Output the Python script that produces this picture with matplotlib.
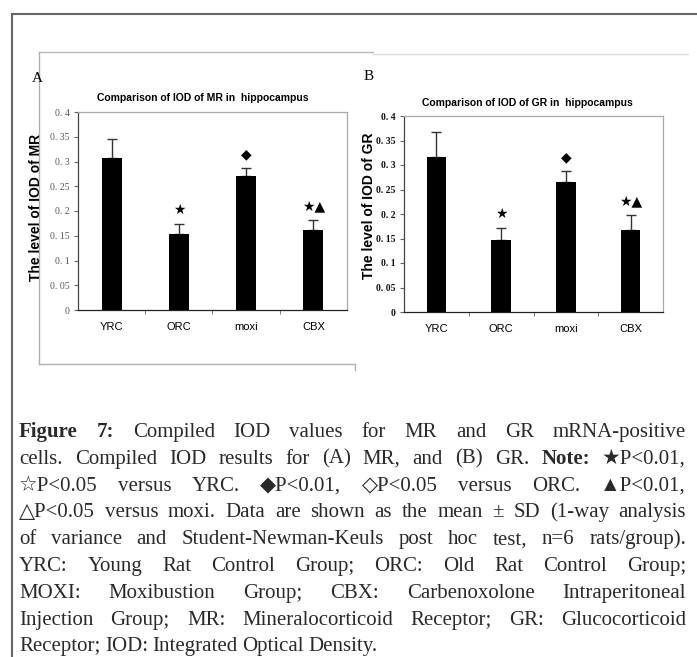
import numpy as np
import matplotlib
matplotlib.use("Agg")
import matplotlib.pyplot as plt
from matplotlib.lines import Line2D

# data
cats = ["YRC", "ORC", "moxi", "CBX"]
mr_mean = [0.308, 0.154, 0.271, 0.161]
mr_sd = [0.037, 0.019, 0.015, 0.020]
gr_mean = [0.317, 0.146, 0.265, 0.168]
gr_sd = [0.050, 0.026, 0.022, 0.029]
marks = ["", "\u2605", "\u25c6", "\u2605\u25b2"]
ytick_vals = [0, 0.05, 0.1, 0.15, 0.2, 0.25, 0.3, 0.35, 0.4]
ytick_labels = ["0", "0. 05", "0. 1", "0. 15", "0. 2", "0. 25", "0. 3", "0. 35", "0. 4"]

caption = [
    "*Figure *7: Compiled IOD values for MR and GR mRNA-positive",
    "cells. Compiled IOD results for (A) MR, and (B) GR. *Note: \u2605P<0.01,",
    "\u2606P<0.05 versus YRC. \u25c6P<0.01, \u25c7P<0.05 versus ORC. \u25b2P<0.01,",
    "\u25b3P<0.05 versus moxi. Data are shown as the mean \u00b1 SD (1-way analysis",
    "of variance and Student-Newman-Keuls post hoc test, n=6 rats/group).",
    "YRC: Young Rat Control Group; ORC: Old Rat Control Group;",
    "MOXI: Moxibustion Group; CBX: Carbenoxolone Intraperitoneal",
    "Injection Group; MR: Mineralocorticoid Receptor; GR: Glucocorticoid",
    "Receptor; IOD: Integrated Optical Density.",
]

W, H = 697, 657
fig = plt.figure(figsize=(W / 100, H / 100), dpi=100)


def fx(x):
    return x / W


def fy(y):
    return 1 - y / H


def hline(x0, x1, y, color, lw=1):
    fig.add_artist(Line2D([fx(x0), fx(x1)], [fy(y), fy(y)], color=color, lw=lw))


def vline(x, y0, y1, color, lw=1):
    fig.add_artist(Line2D([fx(x), fx(x)], [fy(y0), fy(y1)], color=color, lw=lw))


# page borders
vline(12, 14, 657, "#666666", 1.5)
hline(12, 697, 14, "#666666", 1.5)
# panel A frame
vline(39, 52, 364, "#b0b0b0")
hline(39, 355, 364, "#b0b0b0")
vline(355, 364, 370, "#b0b0b0")
hline(39, 373, 52, "#b8b8b8")
hline(373, 688, 54, "#dddddd")


def panel(rect, means, sds, bold_ticks, tcolor):
    ax = fig.add_axes([fx(rect[0]), fy(rect[3]), fx(rect[2] - rect[0]), (rect[3] - rect[1]) / H])
    x = np.arange(len(cats))
    ax.bar(x, means, width=0.3, color="black", zorder=3)
    ax.errorbar(x, means, yerr=[np.zeros(len(sds)), sds], fmt="none", ecolor="#333333",
                elinewidth=1, capsize=3.5, capthick=1, zorder=2)
    for i in range(len(cats)):
        if marks[i]:
            ax.annotate(marks[i], (x[i], means[i] + sds[i]), xytext=(0, 14),
                        textcoords="offset pixels", ha="center", va="center",
                        fontsize=10, family="DejaVu Sans")
    ax.set_xlim(-0.5, 3.5)
    ax.set_ylim(0, 0.4)
    ax.set_xticks(x)
    ax.set_xticklabels(cats, fontsize=8, family="Liberation Sans")
    ax.set_xticks([0.5, 1.5, 2.5], minor=True)
    ax.tick_params(axis="x", which="major", length=0, pad=9)
    ax.tick_params(axis="x", which="minor", length=3, color="#666666", direction="out")
    ax.set_yticks(ytick_vals)
    ax.set_yticklabels(ytick_labels, fontsize=7, family="Liberation Serif",
                       fontweight="bold" if bold_ticks else "normal", color=tcolor)
    ax.tick_params(axis="y", length=3, color="#666666", pad=3)
    ax.spines["left"].set_color("#444444")
    ax.spines["bottom"].set_color("#222222")
    ax.spines["top"].set_color("#aaaaaa")
    ax.spines["right"].set_color("#aaaaaa")
    for s in ax.spines.values():
        s.set_linewidth(0.9)
    return ax


panel((78, 112, 347, 310), mr_mean, mr_sd, False, "#555555")
panel((404, 116, 663, 312), gr_mean, gr_sd, True, "#111111")

fig.text(fx(203), fy(98), "Comparison of IOD of MR in  hippocampus", ha="center", va="center",
         fontsize=7.5, fontweight="bold", family="Liberation Sans")
fig.text(fx(527), fy(103), "Comparison of IOD of GR in  hippocampus", ha="center", va="center",
         fontsize=7.5, fontweight="bold", family="Liberation Sans")
fig.text(fx(36), fy(207), "The level of IOD of MR", rotation=90, ha="center", va="center",
         fontsize=10, fontweight="bold", family="Liberation Sans")
fig.text(fx(369), fy(206), "The level of IOD of GR", rotation=90, ha="center", va="center",
         fontsize=10, fontweight="bold", family="Liberation Sans")
fig.text(fx(37), fy(78), "A", ha="center", va="center", fontsize=11, family="Liberation Serif")
fig.text(fx(369), fy(77), "B", ha="center", va="center", fontsize=11, family="Liberation Serif")

# caption, justified by hand
renderer = fig.canvas.get_renderer()
left, right = 19, 686
y0, step = 437, 26.8
for n, line in enumerate(caption):
    words = line.split(" ")
    texts = []
    for w in words:
        bold = w.startswith("*")
        w = w.lstrip("*")
        t = fig.text(0, fy(y0 + n * step), w, ha="left", va="baseline", fontsize=15,
                     color="#2a2a2a", family=["Liberation Serif", "DejaVu Sans"],
                     fontweight="bold" if bold else "normal")
        texts.append(t)
    widths = [t.get_window_extent(renderer).width for t in texts]
    if n == len(caption) - 1:
        gap = 4.5
    else:
        gap = (right - left - sum(widths)) / (len(texts) - 1)
    xpos = left
    for t, wd in zip(texts, widths):
        t.set_x(fx(xpos))
        xpos += wd + gap

fig.savefig("out.png", dpi=100)
